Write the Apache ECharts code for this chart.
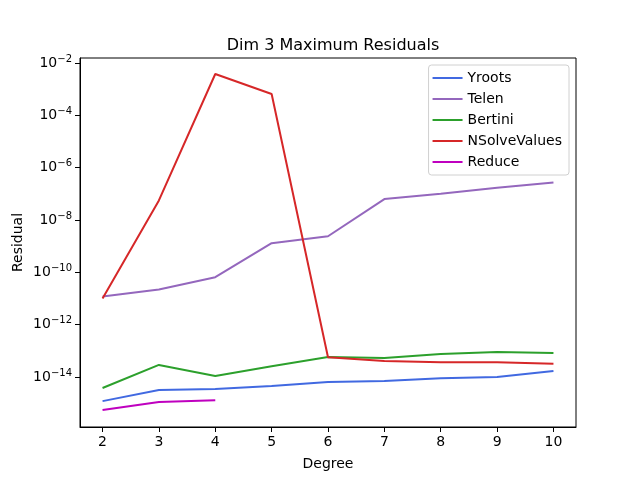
<!DOCTYPE html>
<html>
<head>
<meta charset="utf-8">
<script src="https://cdn.jsdelivr.net/npm/echarts@6/dist/echarts.min.js"></script>
<style>
  html, body { margin: 0; padding: 0; background: #fff; }
  #main { width: 640px; height: 480px; }
</style>
</head>
<body>
<div id="main"></div>
<script>
var degrees = [2, 3, 4, 5, 6, 7, 8, 9, 10];
var yroots = [1.2e-15, 3.2e-15, 3.5e-15, 4.5e-15, 6.5e-15, 7e-15, 9e-15, 1e-14, 1.7e-14];
var telen = [1.2e-11, 2.2e-11, 6.5e-11, 1.3e-9, 2.4e-9, 6.3e-8, 1e-7, 1.7e-7, 2.7e-7];
var bertini = [3.8e-15, 2.9e-14, 1.1e-14, 2.6e-14, 5.8e-14, 5.3e-14, 7.6e-14, 9e-14, 8.3e-14];
var nsolve = [1e-11, 5.6e-8, 3.8e-3, 6.5e-4, 5.7e-14, 4.1e-14, 3.7e-14, 3.7e-14, 3.2e-14];
var reduce = [5.5e-16, 1.1e-15, 1.3e-15];
var yTicks = [1e-14, 1e-12, 1e-10, 1e-8, 1e-6, 1e-4, 1e-2];

var font = 'DejaVu Sans';

function pairs(xs, ys) {
    return ys.map(function (v, i) { return [xs[i], v]; });
}

function mkSeries(name, color, vals) {
    return {
        name: name,
        type: 'line',
        data: pairs(degrees, vals),
        symbol: 'none',
        lineStyle: { color: color, width: 2 },
        itemStyle: { color: color },
        animation: false
    };
}

var myChart = echarts.init(document.getElementById('main'));
var option = {
    backgroundColor: '#fff',
    textStyle: { fontFamily: font },
    title: {
        text: 'Dim 3 Maximum Residuals',
        left: 328,
        top: 33,
        textAlign: 'center',
        textStyle: { fontFamily: font, fontSize: 16, fontWeight: 'normal', color: '#000' }
    },
    legend: {
        orient: 'vertical',
        right: 71,
        top: 65,
        padding: [6, 7, 6, 4],
        itemGap: 7,
        itemWidth: 30,
        itemHeight: 2,
        icon: 'rect',
        borderColor: '#d0d0d0',
        borderWidth: 1,
        borderRadius: 3,
        textStyle: { fontFamily: font, fontSize: 14, color: '#000' },
        data: ['Yroots', 'Telen', 'Bertini', 'NSolveValues', 'Reduce']
    },
    grid: {
        left: 80, right: 64, top: 58, bottom: 53,
        show: true, borderColor: '#000', borderWidth: 1
    },
    xAxis: {
        type: 'value',
        min: 1.6,
        max: 10.4,
        name: 'Degree',
        nameLocation: 'middle',
        nameGap: 30,
        nameTextStyle: { fontFamily: font, fontSize: 14, color: '#000' },
        axisLine: { show: true, lineStyle: { color: '#000' } },
        axisTick: { show: true, length: 5, lineStyle: { color: '#000' }, customValues: degrees },
        axisLabel: { color: '#000', fontSize: 14, fontFamily: font, margin: 8, customValues: degrees },
        splitLine: { show: false }
    },
    yAxis: {
        type: 'log',
        logBase: 10,
        min: Math.pow(10, -15.91),
        max: Math.pow(10, -1.81),
        name: 'Residual',
        nameLocation: 'middle',
        nameGap: 55,
        nameMoveOverlap: false,
        nameTextStyle: { fontFamily: font, fontSize: 14, color: '#000' },
        axisLine: { show: true, lineStyle: { color: '#000' } },
        axisTick: { show: true, length: 5, lineStyle: { color: '#000' }, customValues: yTicks },
        axisLabel: {
            color: '#000',
            fontFamily: font,
            fontSize: 14,
            margin: 8,
            customValues: yTicks,
            formatter: function (v) {
                var e = Math.round(Math.log(v) / Math.LN10);
                return '10{sup|' + (e < 0 ? '\u2212' + (-e) : e) + '}';
            },
            rich: {
                sup: { fontSize: 10, fontFamily: font, color: '#000', verticalAlign: 'top', padding: [0, 0, 8, 0] }
            }
        },
        splitLine: { show: false }
    },
    series: [
        mkSeries('Yroots', '#4169e1', yroots),
        mkSeries('Telen', '#9467bd', telen),
        mkSeries('Bertini', '#2ca02c', bertini),
        mkSeries('NSolveValues', '#d62728', nsolve),
        {
            name: 'Reduce',
            type: 'line',
            data: pairs(degrees, reduce),
            symbol: 'none',
            lineStyle: { color: '#bf00bf', width: 2 },
            itemStyle: { color: '#bf00bf' },
            animation: false
        }
    ]
};
myChart.setOption(option);
</script>
</body>
</html>
